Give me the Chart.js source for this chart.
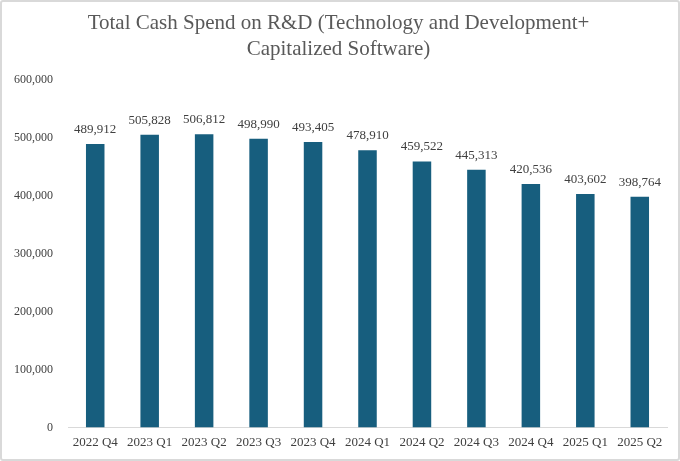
<!DOCTYPE html>
<html>
<head>
<meta charset="utf-8">
<script src="https://cdn.jsdelivr.net/npm/chart.js@4/dist/chart.umd.min.js"></script>
<style>
  html, body { margin: 0; padding: 0; background: #fff; }
  #wrap { width: 676px; height: 457px; border: 2px solid #d9d9d9; border-radius: 3px; }
</style>
</head>
<body>
<div id="wrap"><canvas id="myChart" width="676" height="457"></canvas></div>
<script>
/* data */
const quarters = ["2022 Q4", "2023 Q1", "2023 Q2", "2023 Q3", "2023 Q4", "2024 Q1", "2024 Q2", "2024 Q3", "2024 Q4", "2025 Q1", "2025 Q2"];
const cashSpend = [489912, 505828, 506812, 498990, 493405, 478910, 459522, 445313, 420536, 403602, 398764];
const yTicks = [0, 100000, 200000, 300000, 400000, 500000, 600000];

const serif = "'Liberation Serif', 'DejaVu Serif', serif";

/* value labels above the bars */
const barLabels = {
    id: 'barLabels',
    afterDatasetsDraw(chart) {
        const ctx = chart.ctx;
        const meta = chart.getDatasetMeta(0);
        ctx.save();
        ctx.font = "13px " + serif;
        ctx.fillStyle = '#404040';
        ctx.textAlign = 'center';
        ctx.textBaseline = 'bottom';
        meta.data.forEach(function(bar, i) {
            ctx.fillText(cashSpend[i].toLocaleString('en-US'), bar.x, bar.y - 8);
        });
        ctx.restore();
    }
};

var ctx = document.getElementById('myChart').getContext('2d');

var chart = new Chart(ctx, {
    type: 'bar',
    data: {
        labels: quarters,
        datasets: [{
            label: "Total Cash Spend",
            backgroundColor: '#175e7e',
            borderWidth: 0,
            data: cashSpend,
            categoryPercentage: 1,
            barPercentage: 0.34,
        }]
    },
    options: {
        responsive: false,
        animation: false,
        layout: { padding: { left: 8, right: 11, top: 8, bottom: 2 } },
        plugins: {
            legend: { display: false },
            tooltip: { enabled: false },
            title: {
                display: true,
                text: ["Total Cash Spend on R&D (Technology and Development+", "Capitalized Software)"],
                color: '#595959',
                font: { family: serif, size: 21, weight: 'normal', lineHeight: 1.22 },
                padding: { top: 1, bottom: 18 }
            }
        },
        scales: {
            x: {
                grid: { display: false, drawTicks: false },
                border: { color: '#d9d9d9', width: 1 },
                ticks: { color: '#404040', font: { family: serif, size: 13 }, padding: 7, maxRotation: 0 }
            },
            y: {
                min: 0,
                max: 600000,
                afterFit(scale) { scale.width = 58; },
                afterBuildTicks(scale) { scale.ticks = yTicks.map(v => ({ value: v })); },
                grid: { display: false, drawTicks: false },
                border: { display: false },
                ticks: {
                    color: '#404040',
                    font: { family: serif, size: 12 },
                    padding: 15,
                    callback: v => v.toLocaleString('en-US')
                }
            }
        }
    },
    plugins: [barLabels]
});
</script>
</body>
</html>
